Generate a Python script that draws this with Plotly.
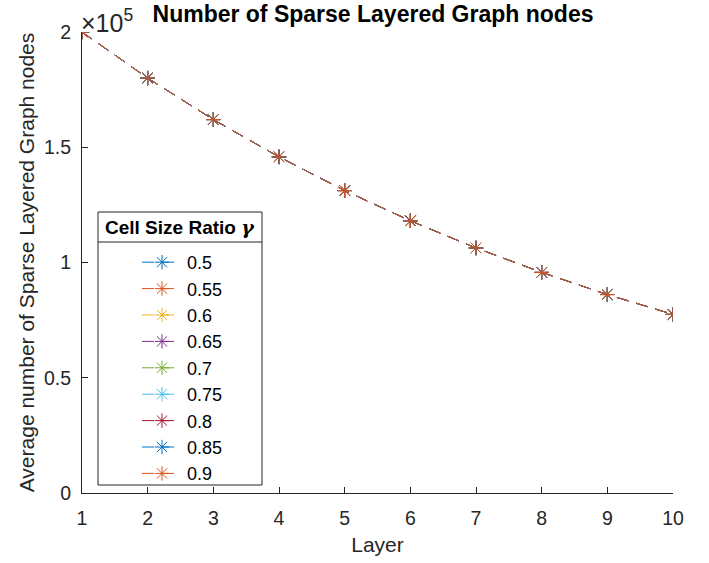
import plotly.graph_objects as go

layers = [1, 2, 3, 4, 5, 6, 7, 8, 9, 10]
ratios = ["0.5", "0.55", "0.6", "0.65", "0.7", "0.75", "0.8", "0.85", "0.9"]
nodes = {
    "0.5":  [200000, 180000, 162000, 145800, 131200, 118100, 106300, 95700, 86100, 77500],
    "0.55": [200000, 180000, 162000, 145800, 131200, 118100, 106300, 95700, 86100, 77500],
    "0.6":  [200000, 180000, 162000, 145800, 131200, 118100, 106300, 95700, 86100, 77500],
    "0.65": [200000, 180000, 162000, 145800, 131200, 118100, 106300, 95700, 86100, 77500],
    "0.7":  [200000, 180000, 162000, 145800, 131200, 118100, 106300, 95700, 86100, 77500],
    "0.75": [200000, 180000, 162000, 145800, 131200, 118100, 106300, 95700, 86100, 77500],
    "0.8":  [200000, 180000, 162000, 145800, 131200, 118100, 106300, 95700, 86100, 77500],
    "0.85": [200000, 180000, 162000, 145800, 131200, 118100, 106300, 95700, 86100, 77500],
    "0.9":  [200000, 180000, 162000, 145800, 131200, 118100, 106300, 95700, 86100, 77500],
}
colors = ["#0072BD", "#D95319", "#EDB120", "#7E2F8E", "#77AC30", "#4DBEEE", "#A2142F", "#0072BD", "#D95319"]
ytick_vals = [0, 50000, 100000, 150000, 200000]
ytick_text = ["0", "0.5", "1", "1.5", "2"]

FONT = "Liberation Sans, Arial, Helvetica, sans-serif"
AX = "#262626"

# plot area in pixels: left 82, right 673, top 32, bottom 493
def px(x):
    return (x - 82) / 591.0

def py(y):
    return (493 - y) / 461.0

fig = go.Figure()
for i, r in enumerate(ratios):
    fig.add_trace(go.Scatter(
        x=layers, y=nodes[r], name=r, mode="lines+markers",
        line=dict(color=colors[i], width=1, dash="12px,8px"),
        marker=dict(symbol="asterisk-open", size=12, color=colors[i],
                    line=dict(color=colors[i], width=1)),
    ))

fig.update_layout(
    width=709, height=563,
    margin=dict(l=82, r=36, t=32, b=70),
    paper_bgcolor="white", plot_bgcolor="white",
    font=dict(family=FONT, size=19, color=AX),
    title=dict(text="<b>Number of Sparse Layered Graph nodes</b>", x=px(373), xanchor="center",
               xref="paper", y=1 - 14 / 563.0, yref="container", yanchor="middle",
               font=dict(size=23, color="black")),
    xaxis=dict(range=[1, 10], tickvals=layers, ticks="inside", ticklen=6, tickcolor=AX,
               showline=True, linecolor=AX, linewidth=1, showgrid=False, zeroline=False,
               ticklabelstandoff=8,
               title=dict(text="Layer", font=dict(size=21), standoff=8),
               tickfont=dict(size=19.5)),
    yaxis=dict(range=[0, 200000], tickvals=ytick_vals, ticktext=ytick_text, ticks="inside",
               ticklen=6, tickcolor=AX, showline=True, linecolor=AX, linewidth=1,
               showgrid=False, zeroline=False, ticklabelstandoff=6,
               title=dict(text="Average number of Sparse Layered Graph nodes", font=dict(size=21), standoff=3),
               tickfont=dict(size=19.5)),
    legend=dict(x=px(137), y=py(244), xanchor="left", yanchor="top",
                borderwidth=0, bgcolor="rgba(0,0,0,0)", itemwidth=40,
                font=dict(size=18, color="black"), tracegroupgap=0),
    shapes=[
        dict(type="rect", xref="paper", yref="paper", x0=px(98), x1=px(262), y0=py(485), y1=py(212),
             line=dict(color=AX, width=1), fillcolor="white", layer="below"),
        dict(type="line", xref="paper", yref="paper", x0=px(98), x1=px(262), y0=py(242), y1=py(242),
             line=dict(color=AX, width=1)),
    ],
    annotations=[
        dict(text="×10<sup>5</sup>", xref="paper", yref="paper", x=0, y=1,
             xanchor="left", yanchor="bottom", showarrow=False,
             font=dict(size=25, color=AX), xshift=-3, yshift=-7),
        dict(text="<b>Cell Size Ratio <span style=\"font-family:'DejaVu Serif'\"><i>γ</i></span></b>",
             xref="paper", yref="paper", x=px(180), y=py(227),
             xanchor="center", yanchor="middle", showarrow=False,
             font=dict(size=19, color="black")),
    ],
)

fig.write_html("out.html")
